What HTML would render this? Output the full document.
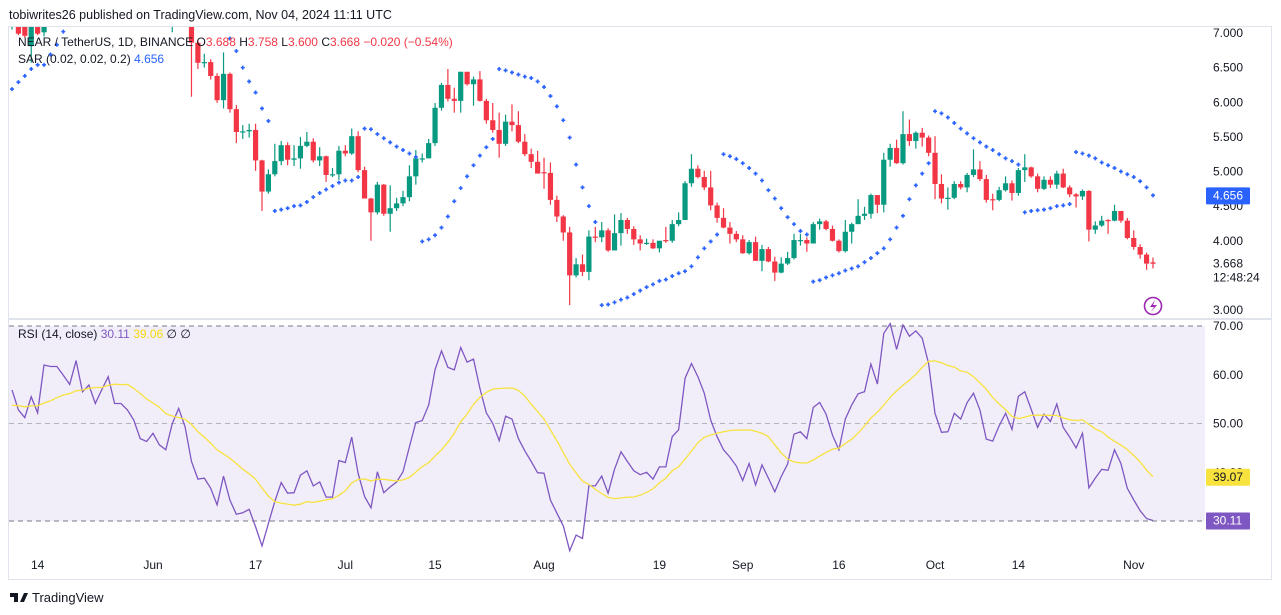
<!DOCTYPE html>
<html><head><meta charset="utf-8">
<style>
html,body{margin:0;padding:0;background:#fff;width:1281px;height:615px;overflow:hidden;font-family:"Liberation Sans",sans-serif;}
svg{display:block}
</style></head>
<body>
<svg id="chart" width="1281" height="615" viewBox="0 0 1281 615" xmlns="http://www.w3.org/2000/svg" font-family="Liberation Sans, sans-serif">
<defs>
<clipPath id="pclip"><rect x="9" y="27" width="1196" height="291"/></clipPath>
<clipPath id="rclip"><rect x="9" y="320" width="1196" height="236"/></clipPath>
</defs>
<text x="9" y="19" font-size="12.5" fill="#131722">tobiwrites26 published on TradingView.com, Nov 04, 2024 11:11 UTC</text>
<rect x="8.5" y="26.5" width="1263" height="553" fill="none" stroke="#e0e3eb"/>
<line x1="9" y1="319" x2="1271" y2="319" stroke="#e0e3eb" stroke-width="2"/>
<rect x="9" y="326" width="1196" height="195" fill="#7e57c2" fill-opacity="0.1"/>
<g id="price" clip-path="url(#pclip)"></g>
<g id="rsi" clip-path="url(#rclip)"></g>
<g id="axes"></g>
<text x="18" y="46" font-size="12" fill="#131722">NEAR / TetherUS, 1D, BINANCE  <tspan fill="#131722">O</tspan><tspan fill="#f23645">3.688</tspan> <tspan>H</tspan><tspan fill="#f23645">3.758</tspan>  <tspan>L</tspan><tspan fill="#f23645">3.600</tspan>  <tspan>C</tspan><tspan fill="#f23645">3.668</tspan>  <tspan fill="#f23645">−0.020 (−0.54%)</tspan></text>
<text x="18" y="63" font-size="12" fill="#131722">SAR (0.02, 0.02, 0.2)  <tspan fill="#2962ff">4.656</tspan></text>
<text x="18" y="338" font-size="12" fill="#131722">RSI (14, close)  <tspan fill="#7e57c2">30.11</tspan>  <tspan fill="#f5d90a">39.06</tspan>  ∅  ∅</text>
<g>
<circle cx="1153" cy="306" r="8.5" fill="none" stroke="#9c27b0" stroke-width="1.6"/>
<path d="M1155 300 L1150 307 L1154 307 L1151 312 L1157 305 L1153 305 Z" fill="#9c27b0"/>
</g>
<g>
<path d="M10 593 h8 v9 h-4 v-5 h-4 z M20 602 l4 -9 h4 l-4 9 z" fill="#131722"/>
<text x="32" y="602" font-size="13" fill="#131722">TradingView</text>
</g>
</svg>
<script>
const opens=[7.30,7.30,7.20,6.81,7.30,7.01,7.4,7.5,7.6,7.5,7.7,7.6,7.8,7.7,7.9,7.8,7.7,7.8,7.6,7.5,7.6,7.5,7.4,7.5,7.4,7.3,7.4,7.5,
7.4,6.86,6.57,6.58,6.38,6.03,6.41,5.90,5.57,5.58,
5.60,5.16,4.71,4.96,5.15,5.38,5.17,5.19,5.37,5.43,
5.16,5.22,4.95,4.96,5.30,5.26,5.51,5.02,4.61,4.41,
4.81,4.39,4.47,4.54,4.63,4.93,5.18,5.19,5.41,5.92,
6.25,6.05,6.02,6.44,6.26,6.33,6.02,5.74,5.60,5.40,
5.72,5.67,5.43,5.25,5.14,4.99,4.98,4.59,4.35,4.12,
3.50,3.66,3.55,4.06,4.05,4.15,3.86,4.11,4.30,4.17,
4.02,3.96,3.97,3.89,4.01,4.00,4.24,4.30,4.83,5.04,
4.92,4.77,4.51,4.33,4.19,4.10,4.02,3.82,3.98,3.71,
3.88,3.70,3.54,3.67,3.75,4.00,4.01,3.96,4.24,4.28,
4.17,4.00,3.85,4.13,4.24,4.36,4.39,4.66,4.52,5.17,
5.34,5.12,5.54,5.44,5.56,5.49,5.27,4.82,4.61,4.62,
4.82,4.77,4.95,5.03,4.89,4.60,4.59,4.73,4.83,4.69,
5.02,5.06,4.93,4.75,4.88,4.81,4.97,4.77,4.67,4.64,
4.72,4.16,4.22,4.30,4.29,4.43,4.29,4.04,3.91,3.80,3.688];
const closes=[7.40,6.99,6.96,7.30,6.99,7.30,7.5,7.6,7.5,7.7,7.6,7.8,7.7,7.9,7.8,7.7,7.8,7.6,7.5,7.6,7.5,7.4,7.5,7.4,7.3,7.4,7.5,7.4,
6.86,6.57,6.58,6.38,6.03,6.41,5.90,5.57,5.58,5.60,
5.16,4.71,4.96,5.15,5.38,5.17,5.19,5.37,5.43,5.16,
5.22,4.95,4.96,5.30,5.26,5.51,5.02,4.61,4.41,4.81,
4.39,4.47,4.54,4.63,4.93,5.19,5.19,5.41,5.92,6.25,
6.05,6.02,6.44,6.26,6.33,6.02,5.74,5.60,5.40,5.72,
5.67,5.43,5.25,5.14,4.97,4.98,4.59,4.35,4.12,3.50,
3.66,3.55,4.06,4.05,4.15,3.86,4.11,4.30,4.17,4.02,
3.96,3.97,3.89,4.00,4.00,4.24,4.30,4.83,5.04,4.92,
4.77,4.51,4.33,4.19,4.10,4.02,3.82,3.98,3.71,3.88,
3.70,3.54,3.67,3.75,4.01,4.01,3.96,4.24,4.28,4.17,
4.00,3.85,4.13,4.24,4.36,4.39,4.66,4.52,5.17,5.34,
5.12,5.54,5.44,5.56,5.49,5.27,4.82,4.61,4.62,4.82,
4.77,4.95,5.03,4.89,4.59,4.59,4.73,4.83,4.69,5.02,
5.06,4.93,4.75,4.88,4.81,4.97,4.77,4.67,4.64,4.72,
4.16,4.22,4.29,4.29,4.43,4.29,4.04,3.91,3.80,3.67,3.668];
const highs=[7.5,7.4,7.3,7.4,7.4,7.4,7.6,7.7,7.7,7.8,7.8,7.9,7.9,8.0,8.0,7.9,7.9,7.9,7.7,7.7,7.7,7.6,7.6,7.6,7.5,7.5,7.6,7.6,
7.5,6.90,6.70,6.62,6.42,6.72,6.43,5.96,5.67,5.69,
5.69,5.17,5.03,5.40,5.44,5.42,5.38,5.50,5.57,5.48,
5.35,5.23,5.05,5.37,5.38,5.62,5.58,5.07,4.62,4.85,
4.82,4.80,4.62,4.72,5.09,5.31,5.26,5.47,5.99,6.28,
6.48,6.21,6.44,6.44,6.37,6.45,6.05,5.99,5.85,5.82,
5.97,5.87,5.54,5.33,5.30,5.20,5.13,4.65,4.37,4.20,
3.75,3.80,4.15,4.20,4.27,4.18,4.38,4.40,4.33,4.21,
4.08,4.03,4.02,4.00,4.20,4.30,4.41,4.86,5.25,5.09,
5.01,5.01,4.55,4.47,4.27,4.14,4.08,4.01,4.06,3.94,
3.91,3.77,3.76,3.84,4.10,4.10,4.05,4.27,4.32,4.30,
4.22,4.02,4.30,4.26,4.60,4.49,4.68,4.66,5.27,5.40,
5.46,5.87,5.75,5.58,5.63,5.52,5.51,4.96,4.77,4.86,
4.86,4.98,5.32,5.15,4.95,4.68,4.78,4.93,4.87,5.05,
5.25,5.07,4.97,4.93,4.93,5.01,5.04,4.80,4.69,4.74,
4.73,4.28,4.36,4.31,4.52,4.43,4.33,4.15,3.95,3.83,3.758];
const lows=[7.05,6.97,6.93,6.57,6.97,6.95,7.3,7.4,7.4,7.4,7.5,7.5,7.6,7.6,7.7,7.6,7.6,7.5,7.4,7.4,7.4,7.3,7.3,7.3,7.2,7.01,7.3,7.3,
6.08,6.48,6.50,6.33,5.99,5.91,5.85,5.41,5.47,5.49,
5.01,4.43,4.68,4.93,5.09,5.09,5.08,5.04,5.35,5.13,
5.08,4.85,4.92,4.88,5.22,5.24,4.99,4.61,4.00,4.38,
4.36,4.13,4.43,4.50,4.57,4.81,5.13,5.19,5.37,5.88,
6.01,5.85,5.85,6.24,5.95,6.01,5.69,5.56,5.20,5.37,
5.58,5.41,5.22,5.05,4.97,4.75,4.52,4.27,4.00,3.07,
3.47,3.49,3.43,3.98,3.98,3.84,3.96,3.93,4.10,3.94,
3.86,3.94,3.88,3.83,3.97,3.97,4.21,4.30,4.78,4.90,
4.73,4.44,4.26,4.18,3.96,3.98,3.81,3.80,3.71,3.56,
3.69,3.42,3.53,3.65,3.73,3.93,3.84,3.96,4.16,4.15,
3.99,3.83,3.83,3.96,4.24,4.30,4.32,4.40,4.41,5.07,
5.11,5.10,5.37,5.33,5.36,5.22,4.60,4.54,4.45,4.60,
4.74,4.70,4.92,4.86,4.55,4.44,4.57,4.71,4.58,4.65,
4.85,4.91,4.70,4.73,4.76,4.75,4.76,4.63,4.48,4.59,
3.99,4.10,4.20,4.10,4.28,4.26,4.02,3.87,3.74,3.58,3.600];
const sar=[6.19,6.29,6.38,6.48,6.54,6.54,6.69,6.83,7.02,
null,null,null,null,null,null,null,null,null,null,null,null,null,null,null,null,null,null,null,null,null,null,null,null,null,
6.92,6.74,6.50,6.30,6.14,5.91,5.73,
4.43,4.45,4.47,4.50,4.51,4.56,4.63,4.69,4.74,4.79,4.84,4.87,4.87,4.92,
5.62,5.61,5.54,5.48,5.42,5.36,5.31,5.26,5.21,
3.99,4.02,4.08,4.19,4.35,4.57,4.76,4.93,5.09,5.23,5.35,5.47,
6.48,6.46,6.43,6.40,6.37,6.35,6.30,6.22,6.09,5.94,5.74,5.49,5.10,4.77,4.50,4.27,
3.07,3.08,3.11,3.15,3.18,3.23,3.28,3.33,3.37,3.42,3.44,3.49,3.53,3.56,3.63,3.76,3.89,3.99,4.09,
5.25,5.22,5.18,5.12,5.05,4.97,4.87,4.73,4.61,4.47,4.34,4.24,4.14,4.09,
3.41,3.43,3.47,3.50,3.53,3.57,3.60,3.63,3.69,3.75,3.82,3.89,4.02,4.19,4.36,4.60,4.80,4.97,5.12,
5.87,5.84,5.78,5.70,5.62,5.55,5.48,5.42,5.36,5.31,5.25,5.19,5.15,5.10,
4.41,4.43,4.44,4.45,4.47,4.50,4.51,4.53,
5.28,5.26,5.23,5.19,5.13,5.09,5.05,5.00,4.96,4.92,4.86,4.77,4.656];
const rsiPrior=[55,54,53,52,54,55,53,52,54,55,54,53,52];
const rsi=[56.9,52.8,51.2,55.5,52.2,62.0,61.7,61.7,59.9,58.0,62.9,56.5,57.9,54.1,56.9,59.6,54.1,54.1,52.8,50.7,46.9,46.3,48.0,45.6,44.6,50.0,53.1,49.3,42.2,38.6,38.8,36.7,33.3,39.2,34.3,31.4,31.7,32.4,28.8,24.9,29.5,34.0,37.9,35.7,35.8,39.4,40.3,37.2,38.0,
34.9,34.9,42.4,42.0,47.2,39.8,35.0,32.7,40.1,35.8,37.0,38.0,40.1,45.2,50.2,50.6,53.8,61.1,64.9,61.5,61.0,65.6,62.6,63.2,57.2,52.2,50.0,46.5,51.5,50.9,46.9,44.4,42.2,39.9,39.8,34.3,31.6,29.0,23.9,27.1,26.4,37.2,37.2,39.2,35.7,40.6,44.2,42.2,
40.3,39.5,40.0,38.6,41.1,41.1,47.3,48.7,59.3,62.3,59.6,56.2,50.7,47.3,44.6,43.1,41.3,38.3,41.8,37.4,41.5,38.8,36.0,39.1,41.7,47.8,48.3,46.9,53.3,54.3,51.9,47.6,44.6,50.9,53.8,56.1,56.5,62.2,58.1,68.5,70.5,65.2,70.2,67.9,69.0,67.5,62.3,52.1,48.2,
48.3,52.1,50.9,54.3,56.2,52.8,46.8,46.4,49.5,52.1,48.8,55.6,56.5,52.9,49.2,51.9,50.4,54.0,49.2,47.2,45.0,48.0,36.8,38.8,40.6,40.4,44.6,41.8,36.7,34.3,32.1,30.5,30.11];
const priceTicks=[7,6.5,6,5.5,5,4.5,4,3];
const priceTickLabels=["7.000","6.500","6.000","5.500","5.000","4.500","4.000","3.000"];
const rsiTicks=[70,60,50,40];
const rsiTickLabels=["70.00","60.00","50.00","40.00"];
const timeTickIdx=[4,22,38,52,66,83,101,114,129,144,157,175];
const timeTickLabels=["14","Jun","17","Jul","15","Aug","19","Sep","16","Oct","14","Nov"];
const lastSar=4.656, lastClose=3.668, lastRsi=30.11;

const NS="http://www.w3.org/2000/svg";
function xOf(i){return 12+6.41*i;}
function yP(p){return 33+(7-p)*69.25;}
function yR(r){return 326+(70-r)*4.875;}
function mk(tag,attrs,parent){const e=document.createElementNS(NS,tag);for(const k in attrs)e.setAttribute(k,attrs[k]);parent.appendChild(e);return e;}
const gP=document.getElementById('price'), gR=document.getElementById('rsi'), gA=document.getElementById('axes');
const UP="#089981", DN="#f23645";
const n=closes.length;
for(let i=0;i<n;i++){
  const o=opens[i],c=closes[i],h=highs[i],l=lows[i];
  const col=c>=o?UP:DN;const x=xOf(i);
  const g=mk('g',{},gP);
  
  
  mk('line',{x1:x,x2:x,y1:yP(h),y2:yP(l),stroke:col,'stroke-width':1.2},g);
  const yt=yP(Math.max(o,c)),yb=yP(Math.min(o,c));
  mk('rect',{x:x-2.6,y:yt,width:5.2,height:Math.max(1.2,yb-yt),fill:col},g);
}
for(let i=0;i<sar.length;i++){
  if(sar[i]===null)continue;
  const x=xOf(i),y=yP(sar[i]);
  const p=mk('path',{d:`M${x-2} ${y}h4M${x} ${y-2}v4`,stroke:'#2962ff','stroke-width':1.6},gP);
  
  
}
[[70,'#787b86','5,4'],[50,'#b2b5be','5,4'],[30,'#787b86','5,4']].forEach(v=>{
  const ln=mk('line',{x1:9,x2:1205,y1:yR(v[0]),y2:yR(v[0]),stroke:v[1],'stroke-dasharray':v[2]},gR);
  
  
});
let pts=rsi.map((r,i)=>xOf(i).toFixed(1)+','+yR(r).toFixed(1)).join(' ');
const rl=mk('polyline',{points:pts,fill:'none',stroke:'#7e57c2','stroke-width':1.3},gR);


const all=rsiPrior.concat(rsi);let mpts=[];
for(let i=0;i<rsi.length;i++){let s=0;for(let k=i;k<i+14;k++)s+=all[k];mpts.push(xOf(i).toFixed(1)+','+yR(s/14).toFixed(1));}
const ml=mk('polyline',{points:mpts.join(' '),fill:'none',stroke:'#f7e23e','stroke-width':1.3},gR);


priceTicks.forEach((p,i)=>{
  const t=mk('text',{x:1213,y:yP(p)+4,'font-size':12,fill:'#131722'},gA);t.textContent=priceTickLabels[i];
  
  
});
rsiTicks.forEach((r,i)=>{
  const t=mk('text',{x:1213,y:yR(r)+4,'font-size':12,fill:'#131722'},gA);t.textContent=rsiTickLabels[i];
  
  
});
timeTickIdx.forEach((d,i)=>{
  const t=mk('text',{x:xOf(d),y:569,'font-size':12,fill:'#131722','text-anchor':'middle'},gA);t.textContent=timeTickLabels[i];
  
  
});
function badge(y,bg,fg,name,txt){
  const g=mk('g',{},gA);
  
  
  if(bg)mk('rect',{x:1206,y:y-8,width:44,height:17,fill:bg,rx:1},g);
  const t=mk('text',{x:1213,y:y+4,'font-size':12,fill:fg},g);t.textContent=txt;
}
badge(yP(lastSar),'#2962ff','#fff','sar-price-badge',lastSar.toFixed(3));
badge(yP(lastClose),'#ffffff','#131722','last-price-label',lastClose.toFixed(3));
const cd=mk('text',{x:1213,y:yP(lastClose)+18,'font-size':12,fill:'#131722'},gA);cd.textContent='12:48:24';


let sm=0;for(let k=rsi.length-1;k<rsi.length+13;k++)sm+=all[k];const lastMa=sm/14;
badge(yR(lastMa),'#f7e23e','#131722','rsi-ma-badge',lastMa.toFixed(2));
badge(yR(lastRsi),'#7e57c2','#fff','rsi-value-badge',lastRsi.toFixed(2));
</script>
</body></html>
